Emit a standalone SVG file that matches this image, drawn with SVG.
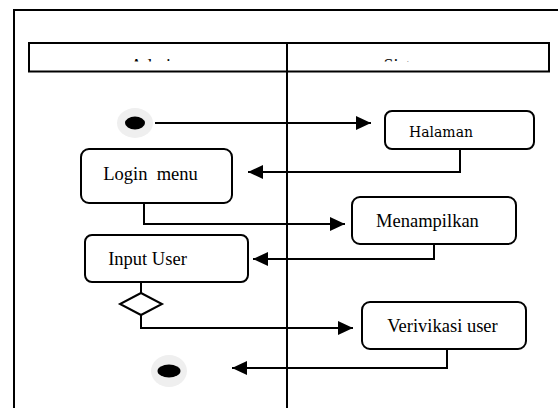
<svg xmlns="http://www.w3.org/2000/svg" width="558" height="408" viewBox="0 0 558 408">
<style>
.frame{fill:none;stroke:#000;stroke-width:2}
.box{fill:#fff;stroke:#000;stroke-width:2}
.ln{fill:none;stroke:#000;stroke-width:2}
.t{font-family:"Liberation Serif","Times New Roman",serif;font-size:18.5px;fill:#000;text-anchor:middle}
.halo{fill:#efefef}
</style>
<defs>
<marker id="ah" markerUnits="userSpaceOnUse" markerWidth="16" markerHeight="16" viewBox="0 0 16 16" refX="15" refY="8" orient="auto">
<path d="M0,1 L15,8 L0,15 Z" fill="#000"/>
</marker>
<clipPath id="hc"><rect x="0" y="0" width="558" height="61.5"/></clipPath>
</defs>
<rect width="558" height="408" fill="#fff"/>
<g id="frame">
<path class="frame" d="M14,420 V10 H570"/>
<rect class="frame" x="29" y="43" width="520" height="28.5"/>
<line class="ln" x1="287" y1="43" x2="287" y2="410"/>
<g clip-path="url(#hc)">
<text class="t" x="155" y="72" style="font-size:18px">Admin</text>
<text class="t" x="408" y="72" style="font-size:18px">Sistem</text>
</g>
</g>
<g id="connectors">
<line class="ln" x1="155" y1="123" x2="371" y2="123" marker-end="url(#ah)"/>
<path class="ln" d="M460,149 V172 H248" marker-end="url(#ah)"/>
<path class="ln" d="M144,203 V224 H345" marker-end="url(#ah)"/>
<path class="ln" d="M434,244 V259 H253" marker-end="url(#ah)"/>
<line class="ln" x1="141" y1="282" x2="141" y2="293"/>
<path class="ln" d="M141,315 V328 H353" marker-end="url(#ah)"/>
<path class="ln" d="M447,349 V368 H232" marker-end="url(#ah)"/>
</g>
<g id="start">
<ellipse class="halo" cx="135" cy="123" rx="18" ry="15"/>
<ellipse cx="135" cy="123" rx="10" ry="6.5" fill="#000"/>
</g>
<g id="halaman">
<rect class="box" x="385" y="111" width="149" height="38" rx="7"/>
<text class="t" x="441" y="137" style="font-size:14px;font-family:'DejaVu Serif',serif">Halaman</text>
</g>
<g id="login">
<rect class="box" x="81" y="149" width="151" height="54" rx="8"/>
<text class="t" x="150.5" y="180" xml:space="preserve">Login  menu</text>
</g>
<g id="menampilkan">
<rect class="box" x="352" y="197" width="164" height="47" rx="8"/>
<text class="t" x="427.5" y="227">Menampilkan</text>
</g>
<g id="input">
<rect class="box" x="85" y="235" width="163" height="47" rx="7"/>
<text class="t" x="147.5" y="265">Input User</text>
</g>
<g id="decision">
<polygon class="box" points="141,293 162,304 141,315 120,304"/>
</g>
<g id="verivikasi">
<rect class="box" x="362" y="302" width="164" height="47" rx="8"/>
<text class="t" x="442.5" y="332">Verivikasi user</text>
</g>
<g id="end">
<ellipse class="halo" cx="169" cy="371" rx="18" ry="16"/>
<ellipse cx="169" cy="371" rx="11.5" ry="6.5" fill="#000"/>
</g>
</svg>
